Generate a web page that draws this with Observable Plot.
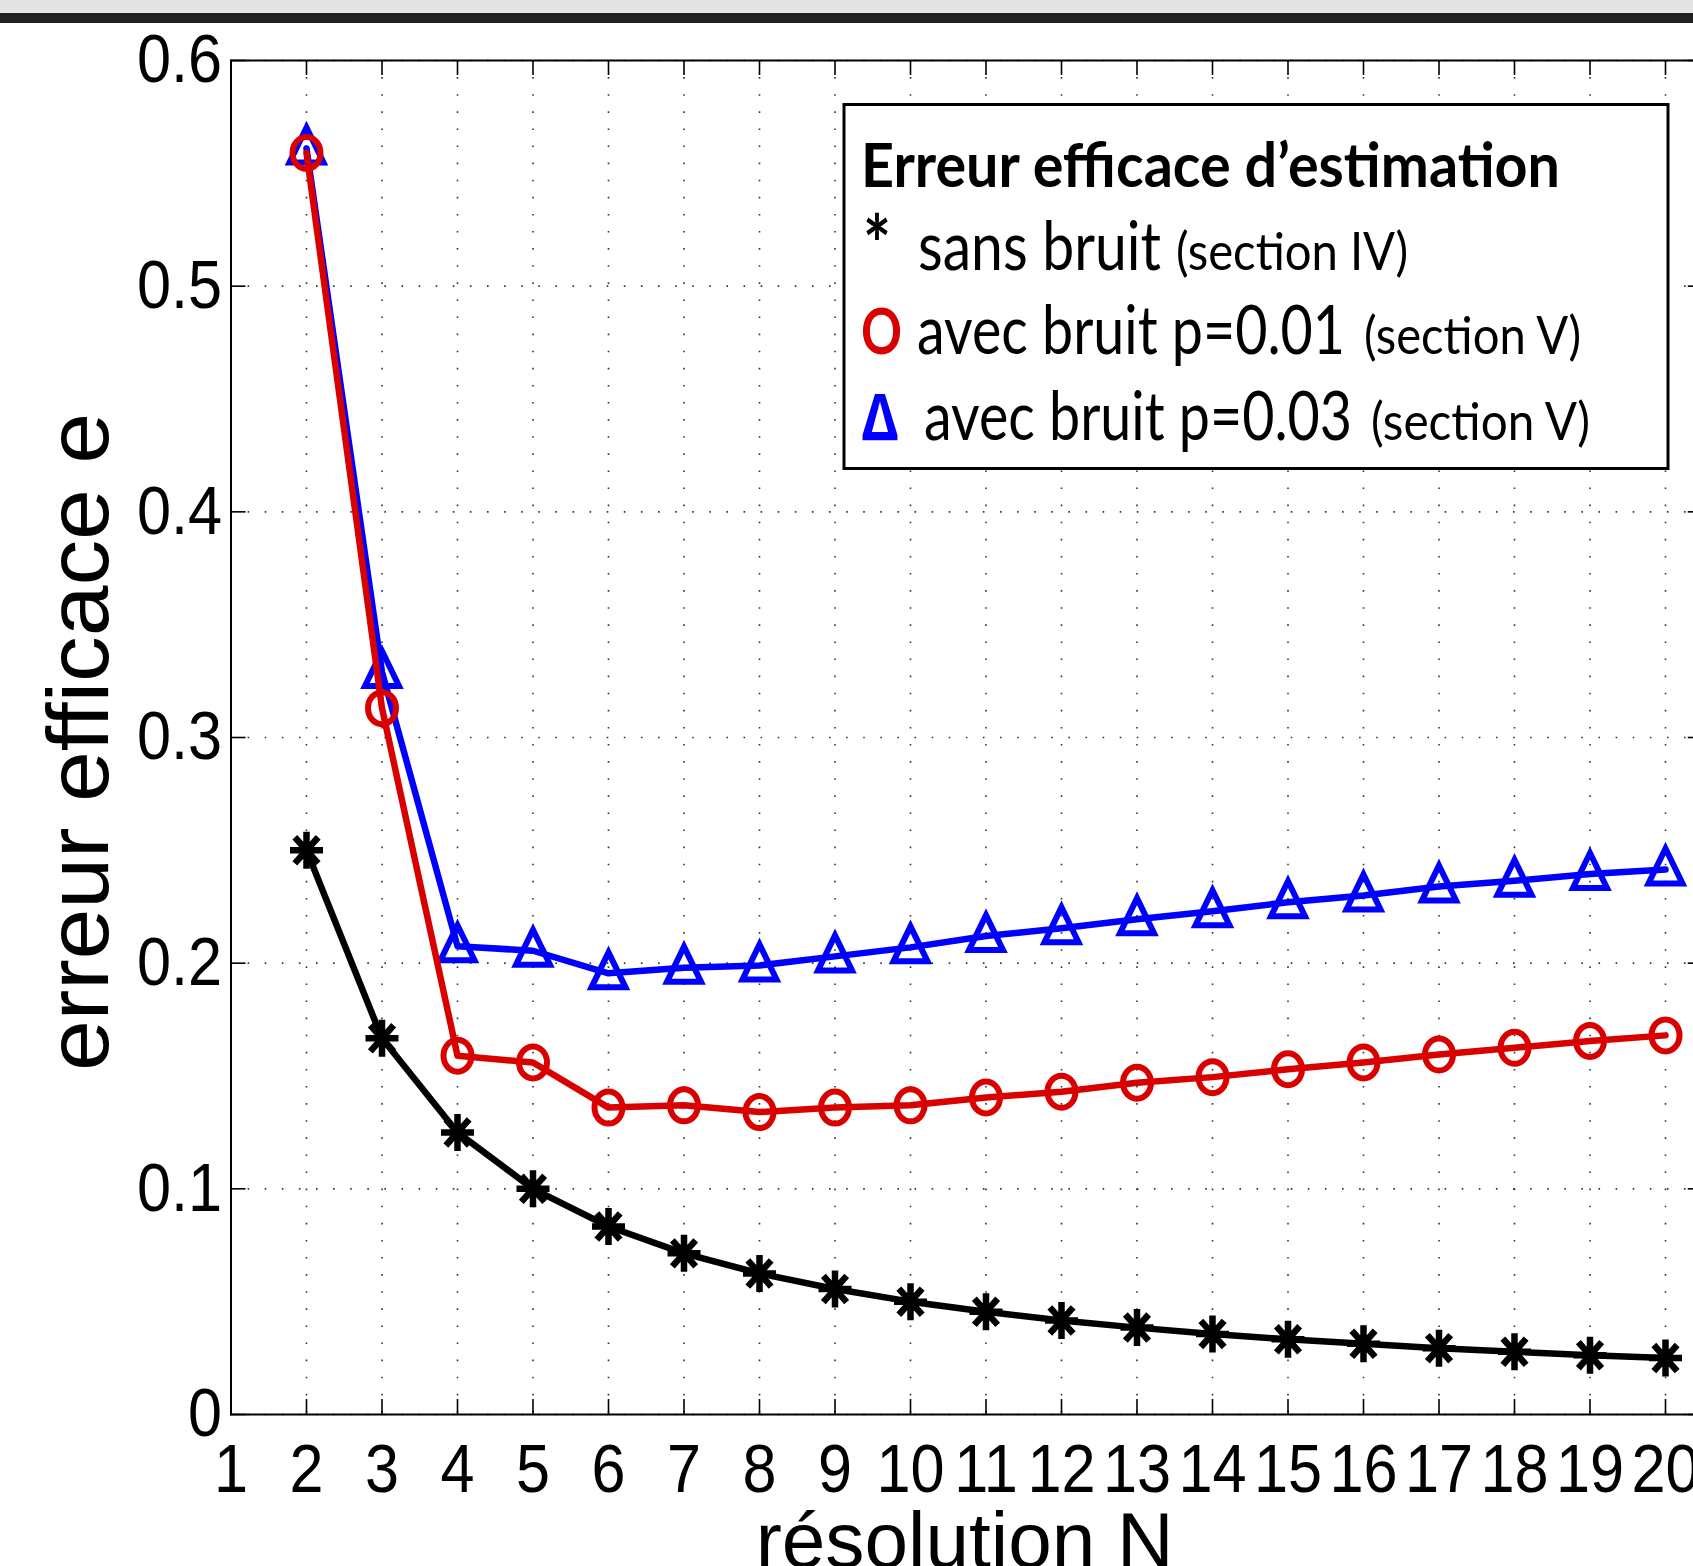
<!DOCTYPE html>
<html><head><meta charset="utf-8">
<script src="https://cdn.jsdelivr.net/npm/d3@7"></script>
<script src="https://cdn.jsdelivr.net/npm/@observablehq/plot@0.6"></script>
<style>
html,body{margin:0;padding:0;background:#fff;overflow:hidden;width:1693px;height:1566px;}
#wrap{position:relative;width:1693px;height:1566px;overflow:hidden;background:#fff;}
#chart{position:absolute;left:0;top:0;width:1720px;height:1566px;}
#chart svg{max-width:none !important;}
#band1{position:absolute;left:0;top:0;width:1693px;height:13px;background:#e4e4e4;}
#band2{position:absolute;left:0;top:13px;width:1693px;height:10px;background:#231f20;}
</style></head><body>
<div id="wrap"><div id="chart"></div><div id="band1"></div><div id="band2"></div></div>
<script>
// ---- data ----
const resolutionN = [2,3,4,5,6,7,8,9,10,11,12,13,14,15,16,17,18,19,20];
const sansBruit   = [0.25,0.1667,0.125,0.1,0.0833,0.0714,0.0625,0.0556,0.05,0.0455,0.0417,0.0385,0.0357,0.0333,0.0313,0.0294,0.0278,0.0263,0.025];
const bruitP001   = [0.559,0.313,0.159,0.156,0.136,0.137,0.134,0.136,0.137,0.1405,0.143,0.147,0.1495,0.153,0.156,0.1595,0.1625,0.1655,0.168];
const bruitP003   = [0.561,0.329,0.2075,0.2055,0.1955,0.198,0.199,0.203,0.207,0.212,0.2155,0.2195,0.223,0.227,0.230,0.234,0.2365,0.2395,0.2415];
const xTicks = [1,2,3,4,5,6,7,8,9,10,11,12,13,14,15,16,17,18,19,20];
const yTicks = [0,0.1,0.2,0.3,0.4,0.5,0.6];
const xLabel = "résolution N";
const yLabel = "erreur efficace e";
const legendTitle = "Erreur efficace d’estimation";
const legendItems = [
  {sym:"*", main:"sans bruit", note:"(section IV)"},
  {sym:"O", main:"avec bruit p=0.01", note:"(section V)"},
  {sym:"Δ", main:"avec bruit p=0.03", note:"(section V)"}
];

const rows = resolutionN.map((n,i)=>({N:n, sans:sansBruit[i], b001:bruitP001[i], b003:bruitP003[i]}));

// ---- layout ----
const W = 1720, H = 1566;
const fL = 230.5, fR = 1702.75, fT = 60, fB = 1414;
const fW = fR - fL, fH = fB - fT;
const RED = "#d90000", BLUE = "#0000ff";

// custom MATLAB-like markers (slightly taller than wide, as in the reference)
const circleSym = {draw(ctx){const rx=14, ry=16, k=0.5523;
  ctx.moveTo(rx,0);
  ctx.bezierCurveTo(rx,ry*k,rx*k,ry,0,ry);
  ctx.bezierCurveTo(-rx*k,ry,-rx,ry*k,-rx,0);
  ctx.bezierCurveTo(-rx,-ry*k,-rx*k,-ry,0,-ry);
  ctx.bezierCurveTo(rx*k,-ry,rx,-ry*k,rx,0);
  ctx.closePath();}};
const triangleSym = {draw(ctx){ctx.moveTo(0,-21);ctx.lineTo(17,14);ctx.lineTo(-17,14);ctx.closePath();}};
const asteriskSym = {draw(ctx){const rx=16.5, ry=18.5;
  for(let i=0;i<4;i++){const a=i*Math.PI/4, dx=Math.cos(a)*rx, dy=Math.sin(a)*ry;
    ctx.moveTo(-dx,-dy);ctx.lineTo(dx,dy);}}};

const tickStyle = {stroke:"#000", strokeWidth:1.6};
const gridStyle = {stroke:"#333", strokeOpacity:1, strokeWidth:1.6, strokeDasharray:"1.6 15.5"};
const LW = 6.5, MW = 6;

const chart = Plot.plot({
  width: W, height: H,
  marginLeft: fL, marginRight: W - fR, marginTop: fT, marginBottom: H - fB,
  x: {domain: [1, 20.5]},
  y: {domain: [0, 0.6]},
  style: {fontFamily: "'Liberation Sans', Arial, Helvetica, sans-serif", background: "#fff", color: "#000", maxWidth: "none"},
  marks: [
    Plot.gridX(xTicks, gridStyle),
    Plot.gridY(yTicks, gridStyle),
    Plot.line(rows, {x:"N", y:"sans", stroke:"#000", strokeWidth:LW}),
    Plot.line(rows, {x:"N", y:"b003", stroke:BLUE, strokeWidth:LW}),
    Plot.dot(rows, {x:"N", y:"b003", symbol:triangleSym, stroke:BLUE, strokeWidth:MW, fill:"none", strokeLinejoin:"miter"}),
    Plot.line(rows, {x:"N", y:"b001", stroke:RED, strokeWidth:LW}),
    Plot.dot(rows, {x:"N", y:"b001", symbol:circleSym, stroke:RED, strokeWidth:MW, fill:"none"}),
    Plot.dot(rows, {x:"N", y:"sans", symbol:asteriskSym, stroke:"#000", strokeWidth:6.5}),
    Plot.frame({stroke:"#000", strokeWidth:2}),
    Plot.tickX(xTicks, {x:d=>d, insetTop: fH - 15, ...tickStyle}),
    Plot.tickX(xTicks, {x:d=>d, insetBottom: fH - 15, ...tickStyle}),
    Plot.tickY(yTicks, {y:d=>d, insetRight: fW - 15, ...tickStyle}),
    Plot.tickY(yTicks, {y:d=>d, insetLeft: fW - 15, ...tickStyle}),
    Plot.axisX(xTicks, {tickSize:0, tickPadding:29, fontSize:68, label:null, tickFormat:d=>String(d)}),
    Plot.axisY(yTicks, {tickSize:0, tickPadding:9, fontSize:68, label:null, tickFormat:d=>String(d)})
  ]
});
document.getElementById("chart").appendChild(chart);

const svg = d3.select(chart);
const xs = chart.scale("x");

// narrower (Helvetica-like) tick labels
svg.selectAll('g[aria-label$="tick label"] text').each(function(){
  const L = this.getComputedTextLength();
  if (L > 0) { this.setAttribute("textLength", (L*0.9).toFixed(1)); this.setAttribute("lengthAdjust","spacingAndGlyphs"); }
});

// axis titles
svg.append("text")
  .attr("transform", `translate(108,${(fT+fB)/2 + 5}) rotate(-90)`)
  .attr("text-anchor","middle")
  .attr("font-size",87)
  .attr("textLength",658).attr("lengthAdjust","spacingAndGlyphs")
  .attr("fill","#000")
  .text(yLabel);
svg.append("text")
  .attr("x", (xs.apply(1)+xs.apply(20.5))/2 - 2)
  .attr("y", 1567)
  .attr("text-anchor","middle")
  .attr("font-size",78)
  .attr("textLength",418).attr("lengthAdjust","spacingAndGlyphs")
  .attr("fill","#000")
  .text(xLabel);

// legend
const lg = svg.append("g").attr("font-family","Lato, 'Noto Sans', sans-serif").attr("text-anchor","start");
lg.append("rect").attr("x",844).attr("y",104.5).attr("width",824).attr("height",364)
  .attr("fill","#fff").attr("stroke","#000").attr("stroke-width",3);
function t(x,y,str,size,len,opts={}){
  const e = lg.append("text").attr("x",x).attr("y",y).attr("font-size",size)
    .attr("text-anchor","start")
    .attr("fill",opts.fill||"#000").attr("font-weight",opts.weight||400).text(str);
  if(len) e.attr("textLength",len).attr("lengthAdjust","spacingAndGlyphs");
  if(opts.family) e.attr("font-family",opts.family);
  return e;
}
t(861,187,legendTitle,61,699,{weight:700});
t(863,274,legendItems[0].sym,80,28,{weight:700});
t(918,270,legendItems[0].main,67,243);
t(1176,270,legendItems[0].note,52,232);
t(861,354,legendItems[1].sym,64,41,{weight:700,fill:RED});
t(917,354,legendItems[1].main,67,428);
t(1364,354,legendItems[1].note,52,217);
t(862,440,legendItems[2].sym,64,36,{weight:700,fill:BLUE,family:"'Noto Sans', 'DejaVu Sans', sans-serif"});
t(924,440,legendItems[2].main,67,428);
t(1371,440,legendItems[2].note,52,219);
</script>
</body></html>
